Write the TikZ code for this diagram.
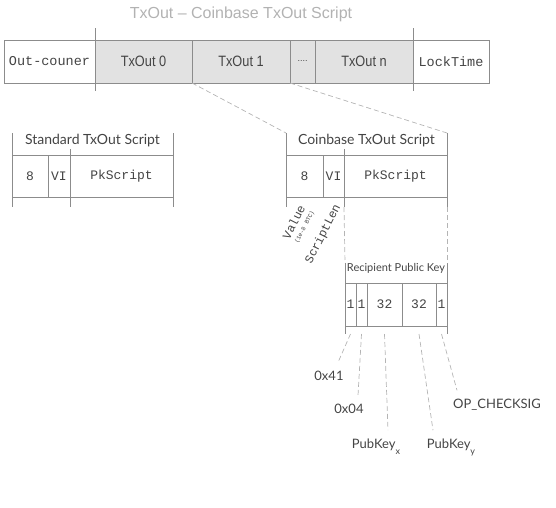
\documentclass[tikz,border=0pt]{standalone}
\usepackage{fontspec}
\setmainfont{Lato}
\setmonofont{Liberation Mono}
\newfontfamily\arialfont{Liberation Sans}
\newfontfamily\narrowfont{Liberation Sans}[FakeStretch=0.85]
\usetikzlibrary{positioning}
\usetikzlibrary{calc}
\definecolor{rulegray}{HTML}{8C8C8C}
\definecolor{dashgray}{HTML}{B4B4B4}
\definecolor{cellgray}{HTML}{E2E2E2}
\definecolor{textgray}{HTML}{444444}
\definecolor{titlegray}{HTML}{B2B2B2}
\tikzstyle{field} = [rectangle, draw=rulegray, line width=1pt, outer sep=0pt,
inner sep=0pt, minimum height=43pt, text=textgray, font=\fontsize{13}{13}\ttfamily]
\tikzstyle{txout} = [field, fill=cellgray, font=\fontsize{15}{15}\narrowfont]
\tikzstyle{cell} = [field, minimum height=42pt]
\tikzstyle{heading} = [text=textgray, inner sep=1pt, font=\fontsize{14}{14}\selectfont]
\tikzstyle{tag} = [text=textgray, inner sep=1pt, anchor=base, font=\fontsize{13}{13}\selectfont]
\tikzstyle{turned} = [text=textgray, inner sep=0pt, rotate=63, anchor=east,
font=\fontsize{12}{12}\ttfamily]
\tikzstyle{rule} = [draw=rulegray, line width=1pt]
\tikzstyle{guideline} = [draw=dashgray, line width=0.7pt, dash pattern=on 5pt off 3pt]
\newcommand{\guide}[2]{ %
  % Dashed guide from #1 to #2.
  \draw[guideline] (#1) -- (#2) ;%
}
\newcommand{\lowsub}[1]{\raisebox{-6pt}{\fontsize{9}{9}\selectfont #1}}

\begin{document}
\begin{tikzpicture}[x=1pt, y=-1pt]
  \useasboundingbox (0,0) rectangle (556,507);

  % top row
  \node[font=\fontsize{16}{16}\arialfont, text=titlegray] (caption) at (241,14) {TxOut – Coinbase TxOut Script};
  \node[field, minimum width=91pt, font=\fontsize{13.5}{13.5}\ttfamily, anchor=north west] (oc) at (4,40) {Out-couner};
  \node[txout, minimum width=97pt, right=0pt of oc] (tx0) {TxOut 0};
  \node[txout, minimum width=98pt, right=0pt of tx0] (tx1) {TxOut 1};
  \node[txout, minimum width=25pt, right=0pt of tx1, font=\fontsize{9}{9}\arialfont] (dots) {....};
  \node[txout, minimum width=98pt, right=0pt of dots] (txn) {TxOut n};
  \node[field, minimum width=76pt, font=\fontsize{13.5}{13.5}\ttfamily, right=0pt of txn] (lt) {LockTime};
  \draw[rule] ([yshift=12pt]oc.north east) -- ([yshift=-8pt]oc.south east);
  \draw[rule] ([yshift=12pt]lt.north west) -- ([yshift=-8pt]lt.south west);

  % standard script
  \node[cell, minimum width=36pt, anchor=north west] (s8) at (12,155) {8};
  \node[cell, minimum width=22pt, right=0pt of s8] (svi) {VI};
  \node[cell, minimum width=103pt, right=0pt of svi] (spk) {PkScript};
  \draw[rule] ([yshift=22pt]s8.north west) -- ([yshift=-10pt]s8.south west);
  \draw[rule] ([yshift=22pt]spk.north east) -- ([yshift=-10pt]spk.south east);
  \draw[rule] ([yshift=6pt]spk.north west) -- ([yshift=-10pt]spk.south west);
  \node[heading] (stitle) at ($(s8.north west)!0.5!(spk.north east)+(0,-14)$) {Standard TxOut Script};

  % coinbase script
  \node[cell, minimum width=37pt, anchor=north west] (c8) at (286,155) {8};
  \node[cell, minimum width=21pt, right=0pt of c8] (cvi) {VI};
  \node[cell, minimum width=103pt, right=0pt of cvi] (cpk) {PkScript};
  \draw[rule] ([yshift=22pt]c8.north west) -- ([yshift=-10pt]c8.south west);
  \draw[rule] ([yshift=22pt]cpk.north east) -- ([yshift=-10pt]cpk.south east);
  \draw[rule] ([yshift=6pt]cpk.north west) -- ([yshift=-10pt]cpk.south west);
  \node[heading] (ctitle) at ($(c8.north west)!0.5!(cpk.north east)+(0,-14)$) {Coinbase TxOut Script};

  \node[turned] (val) at ([xshift=-2.5pt, yshift=-9pt]c8.south) {Value};
  \node[turned, font=\fontsize{6}{6}\ttfamily] (unit) at ([xshift=8.5pt, yshift=-14pt]c8.south) {(1e-8 BTC)};
  \node[turned] (slen) at ([xshift=4.5pt, yshift=-8pt]cvi.south) {ScriptLen};

  % recipient key
  \node[field, minimum width=11pt, anchor=north west] (r1) at (345,283) {1};
  \node[field, minimum width=11pt, right=0pt of r1] (r2) {1};
  \node[field, minimum width=35pt, right=0pt of r2] (r3) {32};
  \node[field, minimum width=34pt, right=0pt of r3] (r4) {32};
  \node[field, minimum width=11pt, right=0pt of r4] (r5) {1};
  \draw[rule] ([yshift=20pt]r1.north west) -- ([yshift=-8pt]r1.south west);
  \draw[rule] ([yshift=20pt]r5.north east) -- ([yshift=-8pt]r5.south east);
  \node[heading, font=\fontsize{11}{11}\selectfont] (rtitle) at ($(r1.north west)!0.5!(r5.north east)+(0,-15)$) {Recipient Public Key};

  \node[tag] (l41) at (329,380) {0x41};
  \node[tag] (l04) at (349,413) {0x04};
  \node[tag] (lpx) at (376,448) {PubKey\lowsub{x}};
  \node[tag] (lpy) at (451,448) {PubKey\lowsub{y}};
  \node[tag] (lop) at (497,408) {OP\_CHECKSIG};

  % guides
  \guide {tx1.south west} {[yshift=22pt]c8.north west};
  \guide {tx1.south east} {[yshift=22pt]cpk.north east};
  \guide {[yshift=-10pt]cpk.south west} {[yshift=20pt]r1.north west};
  \guide {[yshift=-10pt]cpk.south east} {[yshift=20pt]r5.north east};
  \guide {[yshift=-8pt]r1.south} {[xshift=9pt, yshift=7pt]l41.north};
  \guide {[yshift=-8pt]r2.south} {[xshift=9pt, yshift=7pt]l04.north};
  \guide {[yshift=-8pt]r3.south} {[xshift=12pt, yshift=7pt]lpx.north};
  \guide {[yshift=-8pt]r4.south} {[xshift=-18pt, yshift=7pt]lpy.north};
  \guide {[yshift=-8pt]r5.south} {[xshift=-40pt, yshift=7pt]lop.north};
\end{tikzpicture}
\end{document}
